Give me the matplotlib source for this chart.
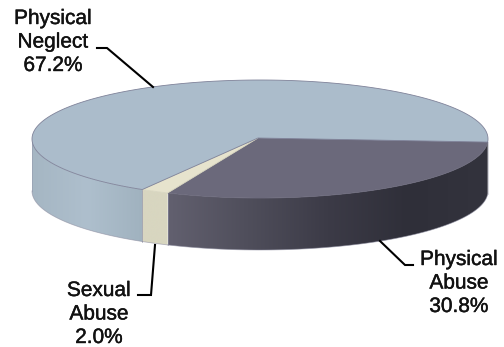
# 3D pie chart of abuse types
import numpy as np
import matplotlib
matplotlib.use("Agg")
import matplotlib.pyplot as plt
import matplotlib.patheffects as pe
from matplotlib.colors import LinearSegmentedColormap
from matplotlib.patches import Polygon

# data
labels = ["Physical\nAbuse", "Sexual\nAbuse", "Physical\nNeglect"]
values = [30.8, 2.0, 67.2]
top_colors = ["#6b697b", "#e6e3cd", "#abbccb"]
edge_colors = ["#6b697b", "#d8d6c0", "#7f8299"]
start_angle = 3.0

# pie shape in pixels
cx, cy = 260, 139
rx, ry = 228, 59
depth = 52

plt.rcParams['font.family'] = ['Liberation Sans', 'DejaVu Sans']
fig = plt.figure(figsize=(5.04, 3.47), dpi=100)
ax = fig.add_axes([0, 0, 1, 1])

# side colours run from left to right along each slice
side_cmaps = [
    LinearSegmentedColormap.from_list("abuse", ["#62606f", "#4f4e5b", "#3c3b47", "#2f2f39", "#33333d"]),
    LinearSegmentedColormap.from_list("sexual", ["#d8d6c0", "#d8d6c0"]),
    LinearSegmentedColormap.from_list("neglect", ["#a5b6c3", "#aebfcd", "#a0b2bf"]),
]


def edge_point(t):
    r = np.radians(t)
    return cx + rx * np.cos(r), cy + ry * np.sin(r)


# slice angles
angles = start_angle + np.cumsum([0] + [v * 3.6 for v in values])

for i in range(3):
    a1, a2 = angles[i], angles[i + 1]

    # only the front of the side is visible
    s1, s2 = max(a1, 0), min(a2, 180)
    if s2 > s1:
        ts = np.linspace(s1, s2, 200)
        bx, by = edge_point(ts)
        outline = np.r_[np.c_[bx, by], np.c_[bx[::-1], by[::-1] + depth]]
        img = ax.imshow(np.linspace(0, 1, 256).reshape(1, -1), cmap=side_cmaps[i], aspect='auto',
                        extent=[bx.min(), bx.max(), by.max() + depth, by.min()], zorder=1)
        clip = Polygon(outline, closed=True, transform=ax.transData, fc='none', ec='none')
        ax.add_patch(clip)
        img.set_clip_path(clip)
        ax.plot(bx, by + depth, color="#8d8da0", lw=0.6, alpha=0.6, zorder=2)
        for t in (s1, s2):
            px, py = edge_point(t)
            ax.plot([px, px], [py, py + depth], color="#8a8aa0", lw=0.5, alpha=0.5, zorder=2)

    # top of the slice
    ts = np.linspace(a1, a2, 200)
    ex, ey = edge_point(ts)
    ax.fill(np.r_[cx - 2, ex], np.r_[cy - 1, ey], color=top_colors[i], ec=edge_colors[i], lw=0.6, zorder=3)

# leader lines
leader_x = [[97, 107, 153], [155, 151, 138], [380, 405, 413]]
leader_y = [[48, 48, 87], [245, 295, 295], [241, 265, 265]]
for lx, ly in zip(leader_x, leader_y):
    ax.plot(lx, ly, color="black", lw=1.5, solid_joinstyle='miter', zorder=4)

# label text
text_x = [459, 99, 53]
text_y = [283, 314, 42]
for i in range(3):
    t = ax.text(text_x[i], text_y[i], f"{labels[i]}\n{values[i]:.1f}%", ha='center', va='center',
                fontsize=15, color="#111111", linespacing=1.3, zorder=5)
    t.set_path_effects([pe.withStroke(linewidth=0.3, foreground="#111111")])

ax.set_xlim(0, 504)
ax.set_ylim(347, 0)
ax.axis('off')

fig.savefig("out.png", dpi=100)
